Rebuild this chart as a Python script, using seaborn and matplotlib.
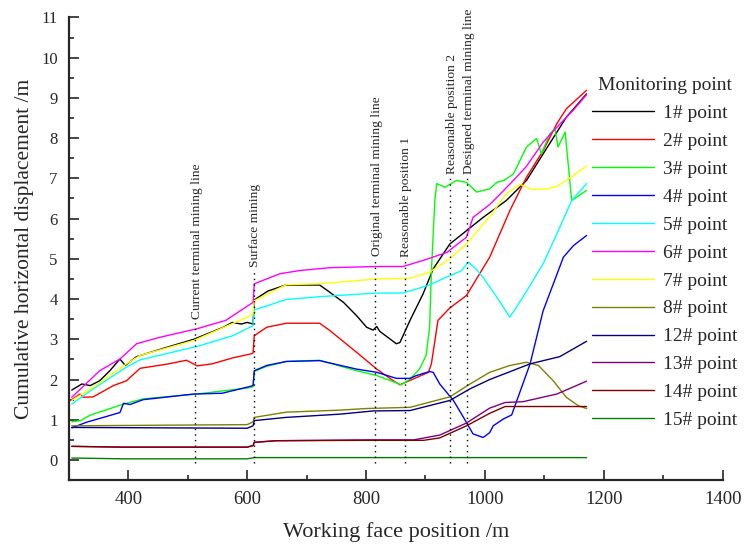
import pandas as pd
import matplotlib
matplotlib.use("Agg")
import matplotlib.pyplot as plt
import seaborn as sns
from matplotlib.ticker import MultipleLocator

# Monitoring point series (working face position /m, displacement /m)
p1_x = [305, 322, 336, 352, 369, 386, 395, 414, 460, 510, 560, 575, 590, 600, 610, 612, 635, 665, 722, 739,
        762, 784, 801, 812, 818, 823, 851, 857, 874, 896, 913, 941, 969, 997, 1036, 1070, 1098, 1137, 1171]
p1_y = [1.74, 1.89, 1.85, 1.97, 2.22, 2.51, 2.35, 2.57, 2.78, 3.0, 3.3, 3.42, 3.38, 3.42, 3.38, 3.98, 4.2, 4.35, 4.35, 4.17,
        3.92, 3.59, 3.30, 3.23, 3.32, 3.2, 2.89, 2.92, 3.47, 4.13, 4.75, 5.37, 5.70, 6.03, 6.45, 6.95, 7.61, 8.52, 9.1]

p2_x = [305, 319, 324, 341, 375, 397, 420, 464, 498, 516, 541, 576, 607, 610, 612, 633, 666, 722, 739, 784,
        818, 846, 857, 885, 905, 910, 921, 941, 969, 1008, 1042, 1070, 1098, 1121, 1137, 1171]
p2_y = [1.50, 1.64, 1.56, 1.57, 1.85, 1.97, 2.28, 2.38, 2.48, 2.34, 2.39, 2.54, 2.64, 2.66, 3.09, 3.30, 3.40, 3.40, 3.22, 2.68,
        2.26, 1.97, 1.87, 2.05, 2.18, 2.39, 3.47, 3.78, 4.09, 5.04, 6.2, 7.03, 7.69, 8.36, 8.73, 9.19]

p3_x = [305, 320, 334, 341, 392, 425, 515, 600, 610, 612, 633, 666, 722, 784, 818, 851, 859, 874, 890, 901,
        907, 910, 916, 919, 933, 952, 969, 986, 1008, 1020, 1032, 1048, 1070, 1087, 1095, 1109, 1118, 1123, 1135,
        1146, 1171]
p3_y = [0.95, 0.98, 1.10, 1.14, 1.39, 1.52, 1.64, 1.79, 1.82, 2.20, 2.33, 2.45, 2.48, 2.22, 2.10, 1.92, 1.87, 2.01, 2.26, 2.6,
        3.3, 4.7, 6.5, 6.87, 6.78, 6.95, 6.90, 6.66, 6.74, 6.90, 6.95, 7.11, 7.78, 7.99, 7.61, 8.11, 8.23, 7.78, 8.15,
        6.45, 6.70]

p4_x = [305, 330, 386, 392, 403, 425, 510, 558, 600, 610, 612, 633, 666, 722, 784, 818, 851, 874, 885, 907,
        913, 924, 947, 964, 980, 997, 1008, 1014, 1031, 1045, 1076, 1098, 1132, 1149, 1171]
p4_y = [0.80, 0.94, 1.18, 1.41, 1.38, 1.50, 1.64, 1.66, 1.81, 1.85, 2.22, 2.35, 2.45, 2.47, 2.26, 2.18, 2.03, 2.03, 2.10, 2.20,
        2.18, 1.89, 1.48, 1.06, 0.65, 0.56, 0.68, 0.85, 1.02, 1.12, 2.39, 3.71, 5.04, 5.33, 5.58]

p5_x = [305, 341, 397, 420, 515, 576, 610, 612, 666, 722, 818, 862, 907, 936, 960, 972, 985, 997, 1020, 1042,
        1064, 1098, 1121, 1146, 1171]
p5_y = [1.39, 1.77, 2.31, 2.49, 2.82, 3.09, 3.34, 3.73, 3.99, 4.06, 4.15, 4.15, 4.35, 4.55, 4.7, 4.92, 4.75, 4.54, 4.05, 3.55,
        4.05, 4.88, 5.62, 6.45, 6.87]

p6_x = [305, 352, 386, 414, 453, 515, 564, 610, 612, 655, 689, 739, 818, 862, 896, 936, 969, 980, 1008, 1025,
        1048, 1070, 1098, 1121, 1149, 1171]
p6_y = [1.56, 2.22, 2.51, 2.89, 3.05, 3.26, 3.47, 3.92, 4.38, 4.63, 4.71, 4.78, 4.81, 4.81, 4.96, 5.16, 5.54, 6.03, 6.35, 6.6,
        6.95, 7.3, 7.9, 8.27, 8.7, 9.08]

p7_x = [305, 341, 397, 420, 510, 600, 610, 612, 666, 722, 818, 874, 907, 941, 969, 1008, 1036, 1059, 1081, 1104,
        1121, 1149, 1171]
p7_y = [1.48, 1.81, 2.39, 2.60, 2.97, 3.55, 3.63, 3.96, 4.36, 4.38, 4.50, 4.52, 4.67, 5.0, 5.37, 6.05, 6.62, 6.85, 6.72, 6.74,
        6.80, 7.07, 7.31]

p8_x = [305, 600, 610, 612, 666, 756, 800, 874, 941, 975, 1008, 1042, 1070, 1090, 1115, 1137, 1157, 1171]
p8_y = [0.85, 0.88, 0.95, 1.06, 1.19, 1.24, 1.28, 1.31, 1.57, 1.89, 2.18, 2.35, 2.43, 2.35, 1.97, 1.56, 1.35, 1.28]

p12_x = [305, 600, 610, 612, 666, 756, 812, 874, 941, 975, 1008, 1076, 1126, 1171]
p12_y = [0.81, 0.79, 0.85, 0.98, 1.06, 1.14, 1.22, 1.23, 1.48, 1.77, 2.0, 2.39, 2.57, 2.95]

p13_x = [305, 392, 600, 610, 612, 649, 800, 880, 924, 969, 1008, 1034, 1064, 1121, 1171]
p13_y = [0.34, 0.32, 0.32, 0.36, 0.44, 0.48, 0.50, 0.50, 0.62, 0.92, 1.29, 1.43, 1.45, 1.64, 1.96]

p14_x = [305, 392, 600, 610, 612, 649, 800, 897, 924, 969, 1008, 1034, 1171]
p14_y = [0.34, 0.32, 0.32, 0.36, 0.44, 0.48, 0.49, 0.49, 0.55, 0.85, 1.16, 1.33, 1.33]

p15_x = [305, 392, 600, 612, 1171]
p15_y = [0.05, 0.03, 0.03, 0.06, 0.06]

point_names = ['1# point', '2# point', '3# point', '4# point', '5# point', '6# point',
               '7# point', '8# point', '12# point', '13# point', '14# point', '15# point']
point_colors = ['#000000', '#FF0000', '#00FF00', '#0000FF', '#00FFFF', '#FF00FF',
                '#FFFF00', '#808000', '#000080', '#800080', '#800000', '#008000']

# Key positions marked with dotted lines
mark_pos = [512, 611, 815, 865, 942, 970]
mark_text = ['Current terminal mining line', 'Surface mining', 'Original terminal mining line',
             'Reasonable position 1', 'Reasonable position 2', 'Designed terminal mining line']
mark_text_base = [3.5, 4.79, 5.08, 5.04, 7.12, 7.12]


def build_frame():
    xs = [p1_x, p2_x, p3_x, p4_x, p5_x, p6_x, p7_x, p8_x, p12_x, p13_x, p14_x, p15_x]
    ys = [p1_y, p2_y, p3_y, p4_y, p5_y, p6_y, p7_y, p8_y, p12_y, p13_y, p14_y, p15_y]
    parts = []
    for name, x, y in zip(point_names, xs, ys):
        parts.append(pd.DataFrame({'pos': x, 'disp': y, 'point': name}))
    return pd.concat(parts, ignore_index=True)


df = build_frame()

sns.set_theme(style='ticks')
plt.rcParams['font.family'] = ['Liberation Serif', 'DejaVu Serif']

fig = plt.figure(figsize=(7.52, 5.45), dpi=100)
ax = fig.add_axes([0.0915, 0.119, 0.8695, 0.849])

sns.lineplot(data=df, x='pos', y='disp', hue='point', hue_order=point_names,
             palette=point_colors, estimator=None, sort=False, linewidth=1.0, ax=ax)

# dotted marker lines and their labels
for xp, txt, base in zip(mark_pos, mark_text, mark_text_base):
    ax.plot([xp, xp], [-0.08, base - 0.08], color='black', linestyle=(0, (1, 3)), linewidth=1.0)
    ax.text(xp + 3, base, txt, rotation=90, ha='center', va='bottom', fontsize=9.7)

ax.set_xlim(300, 1400)
ax.set_ylim(-0.5, 11)
ax.xaxis.set_major_locator(MultipleLocator(200))
ax.xaxis.set_minor_locator(MultipleLocator(100))
ax.yaxis.set_major_locator(MultipleLocator(1))
ax.yaxis.set_minor_locator(MultipleLocator(0.5))
ax.set_xticks(range(400, 1401, 200))
ax.set_yticks(range(0, 12))
ax.tick_params(which='major', direction='in', length=7, width=1.2)
ax.tick_params(which='minor', direction='in', length=3.5, width=1.2)
ax.tick_params(axis='x', which='major', labelsize=13.5, pad=8)
ax.tick_params(axis='y', which='major', labelsize=12, pad=8)
for s in ['left', 'bottom']:
    ax.spines[s].set_linewidth(1.6)
sns.despine(ax=ax)

ax.set_xlabel('Working face position /m', fontsize=16, labelpad=10)
ax.set_ylabel('Cumulative horizontal displacement /m', fontsize=15.5, labelpad=5)

handles, labels = ax.get_legend_handles_labels()
ax.legend(handles, labels, title='Monitoring point', loc='upper left',
          bbox_to_anchor=(0.80, 0.871), frameon=False, fontsize=14, title_fontsize=14,
          handlelength=3.2, handletextpad=0.45, labelspacing=0.53, borderpad=0, borderaxespad=0)

fig.savefig('out.png', dpi=100)
